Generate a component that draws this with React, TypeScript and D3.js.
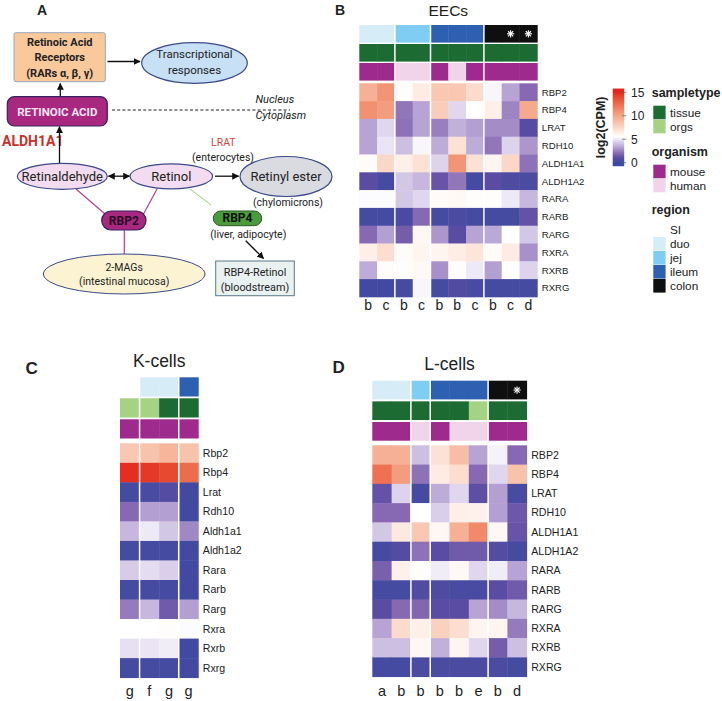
import React from 'react';
import * as d3 from 'd3';

// ---------------- DATA ----------------
const genesUpper = ['RBP2', 'RBP4', 'LRAT', 'RDH10', 'ALDH1A1', 'ALDH1A2', 'RARA', 'RARB', 'RARG', 'RXRA', 'RXRB', 'RXRG'];
const genesMouse = ['Rbp2', 'Rbp4', 'Lrat', 'Rdh10', 'Aldh1a1', 'Aldh1a2', 'Rara', 'Rarb', 'Rarg', 'Rxra', 'Rxrb', 'Rxrg'];

// EECs (panel B)
const eecColLabels = ['b', 'c', 'b', 'c', 'b', 'b', 'c', 'b', 'c', 'd'];
const eecRegion = ['duo', 'duo', 'jej', 'jej', 'ileum', 'ileum', 'ileum', 'colon', 'colon', 'colon'];
const eecSample = ['tissue', 'tissue', 'tissue', 'tissue', 'tissue', 'tissue', 'tissue', 'tissue', 'tissue', 'tissue'];
const eecOrganism = ['mouse', 'mouse', 'human', 'human', 'mouse', 'human', 'mouse', 'mouse', 'mouse', 'mouse'];
const eecStars = [false, false, false, false, false, false, false, false, true, true];
const eecValues = [
  [9.5, 10.8, 5.6, 6.5, 8.3, 8.3, 7.3, 5.3, 3.3, 2.0],
  [11.0, 10.5, 2.3, 3.3, 8.0, 4.6, 5.5, 6.3, 2.6, 9.8],
  [3.3, 4.6, 2.2, 3.3, 2.5, 3.6, 3.2, 2.8, 2.8, 0.9],
  [3.3, 4.9, 4.0, 5.3, 3.5, 7.0, 3.5, 2.3, 4.5, 3.0],
  [5.7, 7.5, 6.3, 7.0, 4.5, 10.8, 7.0, 6.0, 7.5, 2.2],
  [1.0, 0.3, 4.2, 3.8, 1.3, 2.3, 0.3, 1.0, 0.6, 0.5],
  [5.4, 5.4, 4.2, 4.6, 5.7, 5.8, 5.6, 5.6, 5.0, 3.8],
  [0.3, 0.3, 0.4, 2.0, 0.3, 0.5, 0.3, 0.3, 0.3, 1.2],
  [2.0, 3.2, 1.6, 5.9, 3.0, 1.0, 3.3, 3.4, 5.5, 4.2],
  [6.3, 7.2, 5.7, 6.0, 6.0, 6.4, 6.8, 5.7, 6.5, 2.9],
  [3.5, 5.6, 5.6, 5.8, 2.9, 5.6, 5.0, 3.2, 5.5, 4.5],
  [0.2, 0.2, 0.3, 5.3, 0.3, 0.7, 0.4, 0.3, 0.3, 0.3],
];

// K-cells (panel C)
const kColLabels = ['g', 'f', 'g', 'g'];
const kRegion = ['SI', 'duo', 'duo', 'ileum'];
const kSample = ['orgs', 'orgs', 'tissue', 'tissue'];
const kOrganism = ['mouse', 'mouse', 'mouse', 'mouse'];
const kStars = [false, false, false, false];
const kValues = [
  [8.3, 8.5, 9.2, 8.5],
  [14.8, 14.5, 14.0, 12.5],
  [0.3, 0.4, 0.8, 0.2],
  [2.0, 3.2, 3.2, 0.2],
  [3.8, 5.0, 4.2, 2.7],
  [0.3, 0.3, 0.3, 0.2],
  [4.3, 4.7, 4.4, 0.2],
  [0.3, 0.3, 0.3, 0.2],
  [2.4, 3.8, 1.5, 3.2],
  [5.5, 5.5, 5.6, 5.4],
  [4.8, 4.9, 5.1, 0.2],
  [0.3, 0.3, 0.3, 0.2],
];

// L-cells (panel D)
const lColLabels = ['a', 'b', 'b', 'b', 'b', 'e', 'b', 'd'];
const lRegion = ['duo', 'duo', 'jej', 'ileum', 'ileum', 'ileum', 'colon', 'colon'];
const lSample = ['tissue', 'tissue', 'tissue', 'tissue', 'tissue', 'orgs', 'tissue', 'tissue'];
const lOrganism = ['mouse', 'mouse', 'human', 'mouse', 'human', 'human', 'mouse', 'mouse'];
const lStars = [false, false, false, false, false, false, false, true];
const lValues = [
  [9.5, 9.5, 4.0, 7.0, 8.8, 3.3, 5.2, 2.0],
  [12.3, 10.5, 2.2, 6.5, 7.2, 2.0, 4.6, 8.5],
  [1.2, 4.5, 0.3, 3.5, 4.6, 1.1, 3.2, 0.4],
  [2.0, 2.0, 5.5, 4.4, 6.3, 6.2, 3.2, 1.4],
  [4.2, 6.6, 8.3, 5.9, 9.5, 11.3, 5.9, 1.3],
  [0.3, 0.8, 2.2, 1.0, 1.5, 1.5, 0.8, 0.3],
  [1.7, 6.2, 5.6, 5.1, 5.8, 4.6, 5.1, 3.3],
  [0.3, 0.3, 0.7, 0.6, 0.4, 0.4, 1.0, 1.5],
  [1.0, 2.0, 1.9, 1.0, 1.0, 3.3, 2.8, 3.8],
  [3.3, 7.3, 6.3, 7.8, 7.2, 6.0, 6.0, 2.4],
  [4.0, 4.0, 5.9, 3.6, 6.0, 4.6, 1.6, 4.0],
  [0.3, 0.3, 0.5, 0.5, 0.5, 0.5, 0.5, 0.3],
];

const colorTicks = [0, 5, 10, 15];
const sampleLegend = ['tissue', 'orgs'];
const organismLegend = ['mouse', 'human'];
const regionLegend = ['SI', 'duo', 'jej', 'ileum', 'colon'];

// ---------------- STYLES ----------------
const FONT = "'Liberation Sans', Arial, sans-serif";
const AFONT = "Roboto, 'Liberation Sans', sans-serif";

const colorScale = d3
  .scaleLinear<string>()
  .domain([0, 1, 2, 3.3, 4.5, 5.5, 8, 10.5, 12.5, 15])
  .range(['#3A4AA0', '#5A4CA2', '#8669B2', '#B7A4D4', '#DDD3EC', '#FFFFFF', '#F9CDB9', '#F39C7E', '#EC6C4D', '#E2261C'])
  .interpolate(d3.interpolateLab)
  .clamp(true);

const regionColors: Record<string, string> = {
  SI: '#FFFFFF', duo: '#D6ECF7', jej: '#7FCDF2', ileum: '#2E60B1', colon: '#0F0F0F',
};
const sampleColors: Record<string, string> = { tissue: '#1B6B32', orgs: '#A6D284' };
const organismColors: Record<string, string> = { mouse: '#9D2A8C', human: '#F1D3EA' };

type HMProps = {
  x0: number; cell: number; cellH: number; annTop: number; annH: number; annStep: number; heatTop: number;
  values: number[][]; rowLabels: string[]; colLabels: string[];
  region: string[]; sample: string[]; organism: string[]; stars: boolean[];
  rowFont: number; colFont: number; colLabelY: number;
  title: string; titleY: number; titleFont: number;
};

function Asterisk({ cx, cy, r }: { cx: number; cy: number; r: number }) {
  const angles = [0, 45, 90, 135];
  return (
    <g>
      {angles.map((a) => {
        const rad = (a * Math.PI) / 180;
        return (
          <line key={a} x1={cx - r * Math.cos(rad)} y1={cy - r * Math.sin(rad)} x2={cx + r * Math.cos(rad)} y2={cy + r * Math.sin(rad)}
            stroke="#fff" strokeWidth={1.1} />
        );
      })}
    </g>
  );
}

function Heatmap(p: HMProps) {
  const n = p.colLabels.length;
  const m = p.rowLabels.length;
  const xs = d3.scaleBand<number>().domain(d3.range(n)).range([p.x0, p.x0 + n * p.cell]);
  const ys = d3.scaleBand<number>().domain(d3.range(m)).range([p.heatTop, p.heatTop + m * p.cellH]);
  const annRows = [
    p.region.map((r) => regionColors[r]),
    p.sample.map((s) => sampleColors[s]),
    p.organism.map((o) => organismColors[o]),
  ];
  const splits = d3.range(1, n).filter((i) => p.region[i] !== p.region[i - 1]);
  const bottom = p.heatTop + m * p.cellH;
  const right = p.x0 + n * p.cell;
  return (
    <g>
      <text x={(p.x0 + right) / 2} y={p.titleY} textAnchor="middle" fontFamily={FONT} fontSize={p.titleFont} fill="#222">{p.title}</text>
      {annRows.map((row, ri) =>
        row.map((c, ci) => (
          <rect key={`a${ri}-${ci}`} x={xs(ci)!} y={p.annTop + ri * p.annStep} width={xs.bandwidth() + 0.4} height={p.annH} fill={c} />
        ))
      )}
      {p.stars.map((s, ci) => (s ? <Asterisk key={`s${ci}`} cx={xs(ci)! + xs.bandwidth() / 2} cy={p.annTop + p.annH / 2} r={3.6} /> : null))}
      {p.values.map((row, ri) =>
        row.map((v, ci) => (
          <rect key={`c${ri}-${ci}`} x={xs(ci)!} y={ys(ri)!} width={xs.bandwidth() + 0.4} height={ys.bandwidth() + 0.4} fill={colorScale(v)} />
        ))
      )}
      {splits.map((i) => (
        <line key={`sp${i}`} x1={xs(i)!} x2={xs(i)!} y1={p.annTop - 1} y2={bottom + 1} stroke="#fff" strokeWidth={1.5} />
      ))}
      {p.rowLabels.map((l, ri) => (
        <text key={`r${ri}`} x={right + 4.5} y={ys(ri)! + ys.bandwidth() / 2} dy="0.35em" fontFamily={FONT} fontSize={p.rowFont} fill="#222">{l}</text>
      ))}
      {p.colLabels.map((l, ci) => (
        <text key={`cl${ci}`} x={xs(ci)! + xs.bandwidth() / 2} y={p.colLabelY} textAnchor="middle" fontFamily={FONT} fontSize={p.colFont} fill="#222">{l}</text>
      ))}
    </g>
  );
}

function Legend() {
  const cbX = 612.7, cbW = 11.5;
  const ty = d3.scaleLinear().domain([0, 15]).range([162.7, 92.3]);
  const top = ty(15.8), bot = ty(-0.75);
  const stops = d3.range(0, 41).map((i) => {
    const v = 15.8 - (i / 40) * (15.8 + 0.75);
    return { off: i / 40, c: colorScale(v) };
  });
  const boxX = 653.3, boxW = 12.3, step = 14, boxH = 13.6;
  const items = (labels: string[], colors: Record<string, string>, y0: number) =>
    labels.map((l, i) => (
      <g key={l}>
        <rect x={boxX} y={y0 + i * step} width={boxW} height={boxH} fill={colors[l]} />
        <text x={670} y={y0 + i * step + step / 2} dy="0.36em" fontFamily={FONT} fontSize={11.8} fill="#222">{l}</text>
      </g>
    ));
  return (
    <g>
      <defs>
        <linearGradient id="cbgrad" x1="0" y1="0" x2="0" y2="1">
          {stops.map((s) => (
            <stop key={s.off} offset={s.off} stopColor={s.c} />
          ))}
        </linearGradient>
      </defs>
      <text transform={`translate(604.5,${(top + bot) / 2}) rotate(-90)`} textAnchor="middle" fontFamily={FONT} fontWeight="bold" fontSize={12.5} fill="#222">log2(CPM)</text>
      <rect x={cbX} y={top} width={cbW} height={bot - top} fill="url(#cbgrad)" />
      {colorTicks.map((t) => (
        <g key={t}>
          <line x1={cbX + cbW - 2} x2={cbX + cbW + 2} y1={ty(t)} y2={ty(t)} stroke="#666" strokeWidth={0.8} />
          <text x={631} y={ty(t)} dy="0.36em" fontFamily={FONT} fontSize={12} fill="#222">{t}</text>
        </g>
      ))}
      <text x={651.7} y={96.5} fontFamily={FONT} fontWeight="bold" fontSize={12.5} fill="#222">sampletype</text>
      {items(sampleLegend, sampleColors, 105.7)}
      <text x={651.7} y={156} fontFamily={FONT} fontWeight="bold" fontSize={12.5} fill="#222">organism</text>
      {items(organismLegend, organismColors, 164.7)}
      <text x={651.7} y={214} fontFamily={FONT} fontWeight="bold" fontSize={12.5} fill="#222">region</text>
      {items(regionLegend, regionColors, 223)}
    </g>
  );
}

function PanelA() {
  const dark = '#222';
  const navy = '#3B4A8A';
  return (
    <g fontFamily={AFONT}>
      <defs>
        <marker id="arr" viewBox="0 0 10 10" refX="9" refY="5" markerWidth="7" markerHeight="7" markerUnits="userSpaceOnUse" orient="auto-start-reverse">
          <path d="M0,0 L10,5 L0,10 z" fill="#111" />
        </marker>
      </defs>
      {/* Receptors box */}
      <rect x={14} y={32.7} width={91.3} height={49} rx={2} fill="#F9C89B" stroke="#9AA6BC" strokeWidth={1} />
      <text x={59.7} y={46.2} textAnchor="middle" fontWeight="bold" fontSize={11} fill={dark}>Retinoic Acid</text>
      <text x={59.7} y={61.2} textAnchor="middle" fontWeight="bold" fontSize={11} fill={dark}>Receptors</text>
      <text x={59.7} y={76.5} textAnchor="middle" fontWeight="bold" fontSize={11} fill={dark}>(RARs α, β, γ)</text>
      <line x1={107.5} y1={61.5} x2={140} y2={61.5} stroke="#111" strokeWidth={1.3} markerEnd="url(#arr)" />
      <ellipse cx={194.5} cy={63} rx={52.8} ry={20.3} fill="#C7E0F6" stroke={navy} strokeWidth={1.2} />
      <text x={194.5} y={57.5} textAnchor="middle" fontSize={11.5} fill={dark}>Transcriptional</text>
      <text x={194.5} y={73.5} textAnchor="middle" fontSize={11.5} fill={dark}>responses</text>
      <line x1={60.3} y1={96.5} x2={60.3} y2={83.5} stroke="#111" strokeWidth={1.3} markerEnd="url(#arr)" />
      {/* Retinoic acid */}
      <rect x={7.3} y={96.7} width={100} height={29.3} rx={7} fill="#A8287F" stroke="#3A2060" strokeWidth={1.2} />
      <text x={57.3} y={115.5} textAnchor="middle" fontWeight="bold" fontSize={11.5} fill="#F6E3F0">RETINOIC ACID</text>
      <line x1={112} y1={110} x2={290} y2={110} stroke="#222" strokeWidth={1.1} strokeDasharray="3,2.2" />
      <text x={255.5} y={102.5} fontStyle="italic" fontSize={11} fill={dark}>Nucleus</text>
      <text x={255.5} y={119} fontStyle="italic" fontSize={11} fill={dark}>Cytoplasm</text>
      <text x={2} y={145.5} fontWeight="bold" fontSize={14} fill="#C8322B">ALDH1A1</text>
      <line x1={59.5} y1={163.5} x2={59.5} y2={126.8} stroke="#111" strokeWidth={1.3} markerEnd="url(#arr)" />
      {/* Retinaldehyde / Retinol */}
      <ellipse cx={62.3} cy={176.3} rx={45} ry={13} fill="#F3DCEF" stroke={navy} strokeWidth={1.2} />
      <text x={62.3} y={180.8} textAnchor="middle" fontSize={13} fill={dark}>Retinaldehyde</text>
      <line x1={108.5} y1={176.2} x2={129.5} y2={176.2} stroke="#111" strokeWidth={1.3} markerStart="url(#arr)" markerEnd="url(#arr)" />
      <ellipse cx={171.3} cy={176.3} rx={41.3} ry={12.5} fill="#F3DCEF" stroke={navy} strokeWidth={1.2} />
      <text x={171.3} y={180.8} textAnchor="middle" fontSize={13} fill={dark}>Retinol</text>
      <line x1={215} y1={176.2} x2={238.5} y2={176.2} stroke="#111" strokeWidth={1.3} markerEnd="url(#arr)" />
      <ellipse cx={286} cy={176.5} rx={46} ry={20} fill="#D9DBE1" stroke={navy} strokeWidth={1.2} />
      <text x={286} y={181} textAnchor="middle" fontSize={13} fill={dark}>Retinyl ester</text>
      <text x={223.3} y={145.5} textAnchor="middle" fontSize={10.5} fill="#D0463C">LRAT</text>
      <text x={223} y={161} textAnchor="middle" fontSize={10.5} fill={dark}>(enterocytes)</text>
      <text x={288} y={206} textAnchor="middle" fontSize={10.5} fill={dark}>(chylomicrons)</text>
      {/* RBP4 */}
      <line x1={190} y1={189} x2={211} y2={205} stroke="#7FBF50" strokeWidth={0.8} />
      <rect x={213.3} y={211} width={48.4} height={14.7} rx={7.3} fill="#4A9B3C" stroke="#2D5A2A" strokeWidth={1} />
      <text x={237.5} y={222.3} textAnchor="middle" fontWeight="bold" fontSize={12} fill="#111">RBP4</text>
      <text x={248.3} y={237.5} textAnchor="middle" fontSize={10.5} fill={dark}>(liver, adipocyte)</text>
      <line x1={245.7} y1={240.7} x2={263.5} y2={258.5} stroke="#111" strokeWidth={1.3} markerEnd="url(#arr)" />
      <rect x={215.7} y={261} width={78.6} height={34.7} fill="#E9F1F1" stroke="#5A7A8A" strokeWidth={1} />
      <text x={255} y={275.5} textAnchor="middle" fontSize={10.8} fill={dark}>RBP4-Retinol</text>
      <text x={255} y={290.5} textAnchor="middle" fontSize={10.8} fill={dark}>(bloodstream)</text>
      {/* RBP2 */}
      <line x1={76} y1={189} x2={105} y2={214} stroke="#B3408F" strokeWidth={1.2} />
      <line x1={157.3} y1={188.5} x2={143.5} y2={214} stroke="#B3408F" strokeWidth={1.2} />
      <line x1={124.3} y1={230} x2={124.3} y2={254} stroke="#B3408F" strokeWidth={1.2} />
      <rect x={101.7} y={211} width={44.3} height={19} rx={9.5} fill="#A8287F" stroke="#3A2060" strokeWidth={1.2} />
      <text x={123.8} y={224.8} textAnchor="middle" fontWeight="bold" fontSize={12} fill="#2A0C28">RBP2</text>
      <ellipse cx={124.2} cy={274} rx={80.8} ry={20} fill="#FBF3D2" stroke={navy} strokeWidth={1} />
      <text x={124.2} y={271.3} textAnchor="middle" fontSize={10.5} fill={dark}>2-MAGs</text>
      <text x={124.2} y={285} textAnchor="middle" fontSize={10.5} fill={dark}>(intestinal mucosa)</text>
    </g>
  );
}

export default function App() {
  return (
    <svg width={722} height={701} style={{ position: 'absolute', left: 0, top: 0, background: '#fff' }}>
      <rect width={722} height={701} fill="#fff" />
      {/* panel letters */}
      <text x={37} y={15} fontFamily={FONT} fontWeight={900} fontSize={14} fill="#222">A</text>
      <text x={335} y={14.5} fontFamily={FONT} fontWeight={900} fontSize={14} fill="#222">B</text>
      <text x={25.5} y={374} fontFamily={FONT} fontWeight={900} fontSize={17} fill="#222">C</text>
      <text x={332.5} y={373} fontFamily={FONT} fontWeight={900} fontSize={17} fill="#222">D</text>
      <PanelA />
      <Heatmap x0={359.3} cell={17.8} cellH={17.8} annTop={25} annH={17.6} annStep={19} heatTop={83.3}
        values={eecValues} rowLabels={genesUpper} colLabels={eecColLabels}
        region={eecRegion} sample={eecSample} organism={eecOrganism} stars={eecStars}
        rowFont={9.6} colFont={14} colLabelY={309.5} title="EECs" titleY={16} titleFont={15.5} />
      <Legend />
      <Heatmap x0={120} cell={19.58} cellH={19.53} annTop={377.3} annH={19.2} annStep={21} heatTop={443.3}
        values={kValues} rowLabels={genesMouse} colLabels={kColLabels}
        region={kRegion} sample={kSample} organism={kOrganism} stars={kStars}
        rowFont={10.6} colFont={14.5} colLabelY={696} title="K-cells" titleY={367} titleFont={17.5} />
      <Heatmap x0={372.3} cell={19.3} cellH={19.28} annTop={380.7} annH={18.7} annStep={20.65} heatTop={445.3}
        values={lValues} rowLabels={genesUpper} colLabels={lColLabels}
        region={lRegion} sample={lSample} organism={lOrganism} stars={lStars}
        rowFont={10.6} colFont={14.5} colLabelY={696} title="L-cells" titleY={370} titleFont={17.5} />
    </svg>
  );
}
